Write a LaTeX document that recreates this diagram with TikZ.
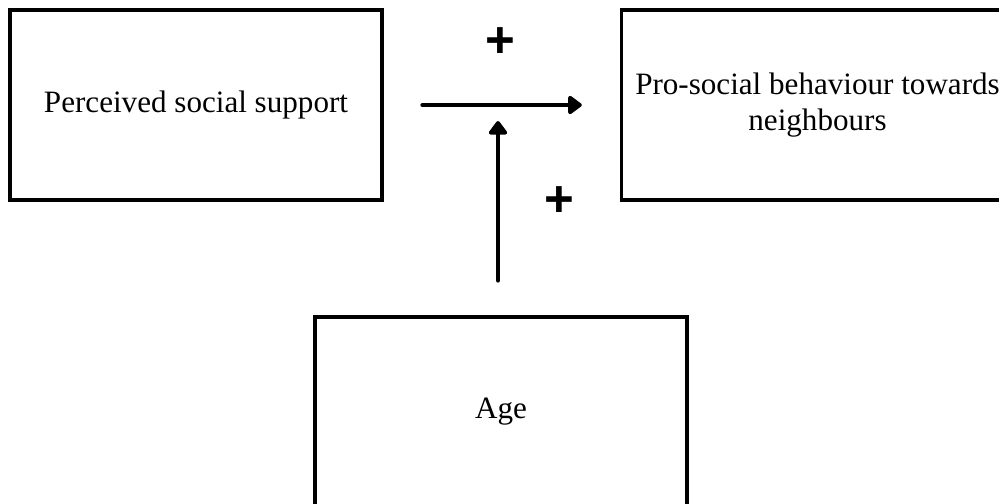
\documentclass[tikz,border=0pt]{standalone}
\usepackage{fontspec}
\setmainfont{Liberation Serif}
\newfontfamily\plusfont{Liberation Sans}
\usepackage{tikz}
\usetikzlibrary{arrows.meta, positioning, calc}

\begin{document}
\begin{tikzpicture}[
  node distance=0.6cm and 1.2cm,
  block/.style={
    rectangle, minimum width=7.44cm, minimum height=3.8cm,
    text centered, align=center, inner sep=0pt,
    font=\fontsize{17.7}{20.3}\selectfont,
    draw=black, line width=2pt
  },
  arrow/.style={-{Triangle[length=0.3cm, width=0.42cm, round]},
    line width=2.8pt, line cap=round, color=black},
  plus/.style={font=\plusfont\bfseries\fontsize{29}{30}\selectfont,
    inner sep=0pt}
]

\useasboundingbox (0,0) rectangle (19.98,10.06);
\clip (0,0) rectangle (19.98,10.06);

% Boxes
\node[block] (support) at (3.92,7.96) {Perceived social support};
\node[block, minimum width=7.84cm, right=4.72cm of support] (prosocial)
      {Pro-social behaviour towards\\neighbours};
\node[block] (age) at (10.02,1.82) {Age};

% Main path
\coordinate (hstart) at ([xshift=0.78cm]support.east);
\coordinate (hend)   at ([xshift=-0.76cm]prosocial.west);
\draw[arrow] (hstart) -- (hend);

% Moderator
\coordinate (mod) at (age.north |- hstart);
\draw[arrow] ([xshift=-0.06cm, yshift=0.7cm]age.north)
      -- ([xshift=-0.06cm, yshift=-0.32cm]mod);

% Signs
\node[plus] (plusmain) at ([xshift=-0.02cm, yshift=1.24cm]mod) {+};
\node[plus] (plusmod)  at ([xshift=1.16cm, yshift=-1.94cm]mod) {+};

\end{tikzpicture}
\end{document}
